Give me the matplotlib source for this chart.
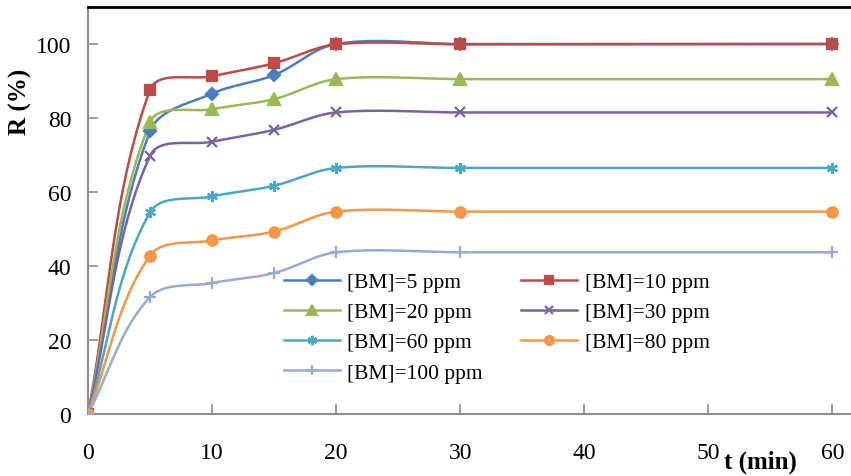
import numpy as np
import matplotlib.pyplot as plt

t = [0, 5, 10, 15, 20, 30, 60]

r_5 = [0, 76.4, 86.6, 91.6, 100, 100, 100]
r_10 = [0, 87.6, 91.3, 94.8, 99.9, 99.9, 100]
r_20 = [0, 78.8, 82.4, 85.1, 90.5, 90.5, 90.5]
r_30 = [0, 69.8, 73.6, 76.8, 81.5, 81.5, 81.5]
r_60 = [0, 54.5, 58.8, 61.7, 66.5, 66.5, 66.5]
r_80 = [0, 42.8, 46.9, 49.3, 54.7, 54.7, 54.7]
r_100 = [0, 31.6, 35.4, 38.1, 43.7, 43.7, 43.7]

labels = ['[BM]=5 ppm', '[BM]=10 ppm', '[BM]=20 ppm', '[BM]=30 ppm',
          '[BM]=60 ppm', '[BM]=80 ppm', '[BM]=100 ppm']

plt.rcParams['font.family'] = ['Liberation Serif', 'DejaVu Serif']

XMAX, YMAX = 61.5, 110


def smooth(x, y, n=40, k=0.5):
    # bezier segments in pixel space; tangent from neighbours,
    # handle length scaled by the length of each segment
    sx, sy = 763 / XMAX, 407 / YMAX
    p = np.column_stack([np.array(x) * sx, np.array(y) * sy])
    m = len(p)
    tang = []
    for i in range(m):
        a = p[max(i - 1, 0)]
        b = p[min(i + 1, m - 1)]
        d = b - a
        tang.append(d / np.linalg.norm(d))
    pts = []
    for i in range(m - 1):
        p1, p2 = p[i], p[i + 1]
        L = np.linalg.norm(p2 - p1)
        c1 = p1 + tang[i] * L * k / 3 * 2
        c2 = p2 - tang[i + 1] * L * k / 3 * 2
        s = np.linspace(0, 1, n)[:, None]
        seg = ((1 - s) ** 3) * p1 + 3 * ((1 - s) ** 2) * s * c1 + 3 * (1 - s) * s ** 2 * c2 + s ** 3 * p2
        pts.append(seg if i == 0 else seg[1:])
    pts = np.vstack(pts)
    return pts[:, 0] / sx, pts[:, 1] / sy


series = [r_5, r_10, r_20, r_30, r_60, r_80, r_100]
colors = ['#4a7ebb', '#be4b48', '#98b954', '#7d60a0', '#46aac5', '#f79646', '#95abd6']
markers = ['D', 's', '^', 'x', (6, 2, 0), 'o', '+']
msizes = [6, 7.5, 8, 7, 8, 7.5, 9]

fig = plt.figure(figsize=(8.51, 4.77), dpi=100)
ax = fig.add_axes([88 / 851, 62 / 477, 1 - 88 / 851, 407 / 477])

handles = []
for ys, c, m, ms, lab in zip(series, colors, markers, msizes, labels):
    sx_, sy_ = smooth(t, ys)
    ax.plot(sx_, sy_, color=c, lw=1.8, zorder=2)
    ax.plot(t, ys, ls='none', marker=m, ms=ms, color=c, mec=c, mew=1.6, zorder=3)
    h, = ax.plot([], [], color=c, lw=1.8, marker=m, ms=ms * 0.85, mec=c, mew=1.6, label=lab)
    handles.append(h)

ax.set_xlim(0, XMAX)
ax.set_ylim(0, YMAX)
ax.set_xticks(range(0, 61, 10))
ax.set_yticks(range(0, 101, 20))
ax.tick_params(direction='in', length=7, width=1.2, color='#8c8c8c', labelsize=17, pad=12)
ax.tick_params(axis='x', pad=20)

for side in ['left', 'bottom']:
    ax.spines[side].set_color('#8c8c8c')
    ax.spines[side].set_linewidth(1.5)
ax.spines['right'].set_visible(False)
ax.spines['top'].set_color('black')
ax.spines['top'].set_linewidth(2)

ax.set_ylabel('R (%)', fontsize=18, fontweight='bold')
ax.yaxis.set_label_coords(-0.073, 0.77)
ax.text(54.2, -12.8, 't (min)', fontsize=18, fontweight='bold', ha='center', va='center')

# legend order row by row: 5 | 10, 20 | 30, ...
order = [0, 2, 4, 6, 1, 3, 5]
ax.legend([handles[i] for i in order], [labels[i] for i in order], ncol=2,
          frameon=False, fontsize=15.5, loc='upper left', bbox_to_anchor=(0.245, 0.37),
          handlelength=2.6, handletextpad=0.35, columnspacing=1.8, labelspacing=0.47,
          borderaxespad=0)

fig.savefig('out.png', dpi=100)
